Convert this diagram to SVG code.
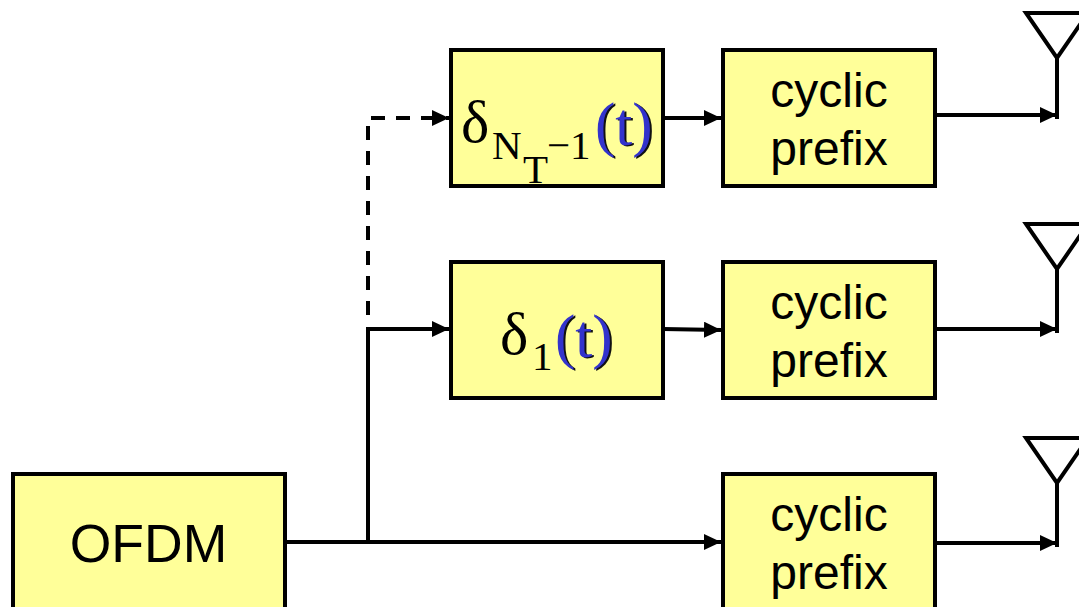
<svg xmlns="http://www.w3.org/2000/svg" width="1079" height="607" viewBox="0 0 1079 607">
<style>
.box{fill:#ffff99;stroke:#000;stroke-width:4}
.lab{font-family:"Liberation Sans",Arial,sans-serif;font-size:48px;fill:#000;text-anchor:middle}
.big{font-family:"Liberation Sans",Arial,sans-serif;font-size:53.5px;fill:#000;text-anchor:middle}
.ser{font-family:"Liberation Serif","Times New Roman",serif;fill:#000}
.paren{font-family:"Liberation Serif","Times New Roman",serif;font-size:61px;fill:#3333cc}
.shadow{font-family:"Liberation Serif","Times New Roman",serif;font-size:61px;fill:#111}
.sub{font-size:41px}
.del{font-size:60px}
.ln{fill:none;stroke:#000;stroke-width:4}
.ant{fill:none;stroke:#000;stroke-width:4}
</style>
<defs>
<marker id="arr" markerUnits="userSpaceOnUse" markerWidth="18" markerHeight="16" refX="17" refY="8" orient="auto"><path d="M0 0L17 8L0 16Z" fill="#000"/></marker>
</defs>
<g id="connectors">
<path class="ln" d="M287 542H721" marker-end="url(#arr)"/>
<path class="ln" d="M368 542V329H449" marker-end="url(#arr)"/>
<path class="ln" d="M368 315V118H449" stroke-dasharray="14 11" marker-end="url(#arr)"/>
<path class="ln" d="M663 118H721" marker-end="url(#arr)"/>
<path class="ln" d="M663 329L721 330" marker-end="url(#arr)"/>
<path class="ln" d="M935 115H1057" marker-end="url(#arr)"/>
<path class="ln" d="M935 329H1057" marker-end="url(#arr)"/>
<path class="ln" d="M935 543H1057" marker-end="url(#arr)"/>
</g>
<g id="ofdm"><rect class="box" x="13" y="474" width="272" height="140"/><text class="big" x="148.500" y="562">OFDM</text></g>
<g id="delta-nt"><rect class="box" x="451" y="50" width="212" height="136"/>
<text class="ser del" x="461" y="142">δ</text>
<text class="ser sub" x="492" y="159">N</text>
<text class="ser sub" x="523" y="183">T</text>
<text class="ser sub" x="547" y="159">−1</text>
<text class="shadow" x="597" y="146">(t)</text><text class="paren" x="595" y="145">(t)</text></g>
<g id="delta-1"><rect class="box" x="451" y="262" width="212" height="136"/>
<text class="ser del" x="500" y="354">δ</text>
<text class="ser sub" x="532" y="370">1</text>
<text class="shadow" x="557" y="358">(t)</text><text class="paren" x="555" y="357">(t)</text></g>
<g id="cp-top"><rect class="box" x="723" y="50" width="212" height="136"/><text class="lab" x="829" y="107">cyclic</text><text class="lab" x="829" y="165">prefix</text></g>
<g id="cp-mid"><rect class="box" x="723" y="262" width="212" height="136"/><text class="lab" x="829" y="319">cyclic</text><text class="lab" x="829" y="377">prefix</text></g>
<g id="cp-bot"><rect class="box" x="723" y="474" width="212" height="136"/><text class="lab" x="829" y="531">cyclic</text><text class="lab" x="829" y="589">prefix</text></g>
<g id="antenna-top"><path class="ant" d="M1026 13H1088L1057 58ZM1057 58V119"/></g>
<g id="antenna-mid"><path class="ant" d="M1026 224H1088L1057 269ZM1057 269V333"/></g>
<g id="antenna-bot"><path class="ant" d="M1026 438H1088L1057 483ZM1057 483V547"/></g>
</svg>
